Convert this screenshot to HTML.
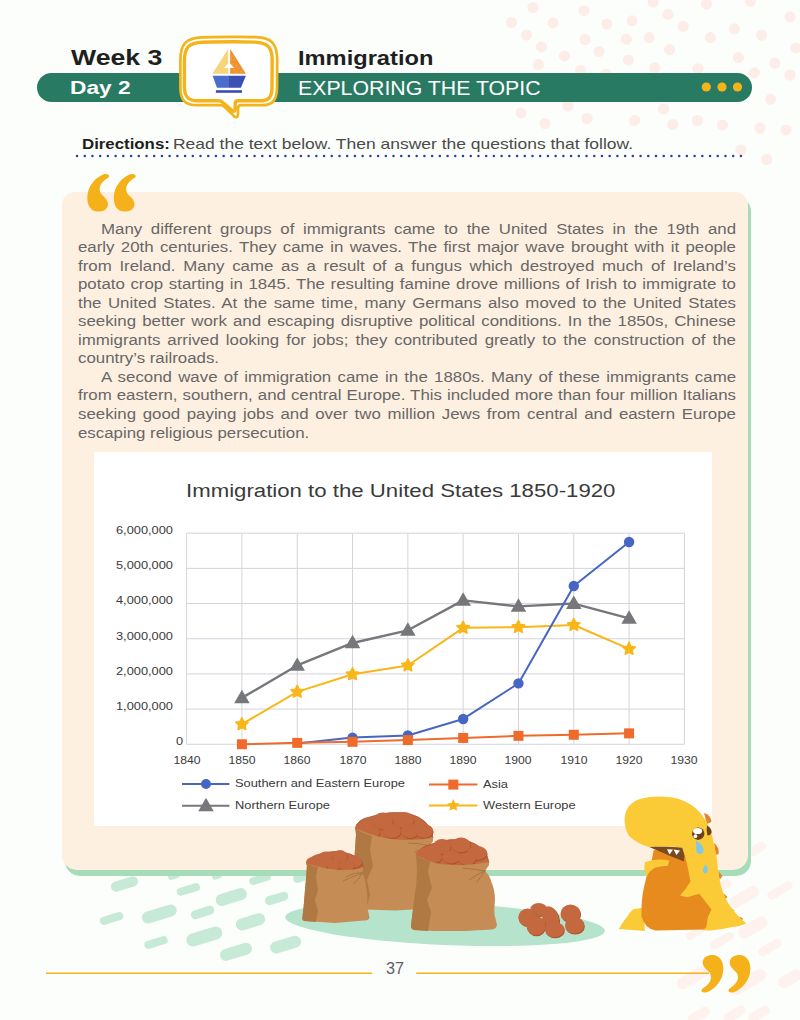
<!DOCTYPE html>
<html><head><meta charset="utf-8">
<style>
*{margin:0;padding:0;box-sizing:border-box}
html,body{width:800px;height:1020px;overflow:hidden;background:#fcfefb}
body{position:relative;font-family:"Liberation Sans",sans-serif}
.a{position:absolute}
.t{position:absolute;white-space:nowrap;transform-origin:0 0;line-height:1}
svg{position:absolute;left:0;top:0}
#card{left:62px;top:192px;width:686px;height:678px;background:#fef0e1;border-radius:13px 13px 15px 15px;box-shadow:3px 6px 0 #a6dcb7}
#chart{left:94px;top:452px;width:618px;height:374px;background:#fff}
.p{position:absolute;left:78px;font-size:14.7px;line-height:1;color:#676767;transform-origin:0 0;transform:scaleX(1.1463);text-align:justify;text-align-last:justify;white-space:normal}
.p.l{text-align:left;text-align-last:left}
.c{position:absolute;white-space:nowrap;transform-origin:0 0;line-height:1;color:#3a3a3a}
</style></head><body>

<svg width="800" height="1020" viewBox="0 0 800 1020">
<g fill="#fdede8"><circle cx="533" cy="7.5" r="5.6"/><circle cx="511.5" cy="22.5" r="5.6"/><circle cx="553" cy="22.9" r="5.6"/><circle cx="584" cy="10.6" r="5.6"/><circle cx="526.6" cy="35" r="5.6"/><circle cx="541.4" cy="46.9" r="5.6"/><circle cx="564.4" cy="55.9" r="5.6"/><circle cx="538.3" cy="64.4" r="5.6"/><circle cx="585" cy="39.5" r="5.6"/><circle cx="599" cy="51.5" r="5.6"/><circle cx="580.5" cy="70.5" r="5.6"/><circle cx="607" cy="24" r="5.6"/><circle cx="632" cy="20.8" r="5.6"/><circle cx="653.2" cy="2" r="5.6"/><circle cx="668" cy="14.4" r="5.6"/><circle cx="683.2" cy="26.4" r="5.6"/><circle cx="706.4" cy="4" r="5.6"/><circle cx="750.4" cy="1.2" r="5.6"/><circle cx="790" cy="16.8" r="5.6"/><circle cx="626.4" cy="39.2" r="5.6"/><circle cx="649.2" cy="37.6" r="5.6"/><circle cx="669.6" cy="49.6" r="5.6"/><circle cx="710.4" cy="37.6" r="5.6"/><circle cx="734.4" cy="28.8" r="5.6"/><circle cx="761.6" cy="35.2" r="5.6"/><circle cx="796" cy="48" r="5.6"/><circle cx="628.4" cy="60" r="5.6"/><circle cx="654.8" cy="68" r="5.6"/><circle cx="698" cy="68.8" r="5.6"/><circle cx="738.4" cy="57.6" r="5.6"/><circle cx="774.8" cy="63.2" r="5.6"/><circle cx="754.4" cy="72.8" r="5.6"/><circle cx="790" cy="75" r="5.6"/><circle cx="606" cy="74" r="5.6"/><circle cx="521" cy="113" r="5.6"/><circle cx="545" cy="123.5" r="5.6"/><circle cx="568" cy="106" r="5.6"/><circle cx="587" cy="118.5" r="5.6"/><circle cx="634.5" cy="120.5" r="5.6"/><circle cx="663.5" cy="109" r="5.6"/><circle cx="672.7" cy="124.5" r="5.6"/><circle cx="697.5" cy="120.5" r="5.6"/><circle cx="722.6" cy="125" r="5.6"/><circle cx="760" cy="128" r="5.6"/><circle cx="786" cy="130" r="5.6"/><circle cx="770.6" cy="99.4" r="5.6"/><circle cx="741" cy="150" r="5.6"/><circle cx="766.8" cy="159.5" r="5.6"/></g>
<g fill="#c6ead5"><rect x="110.5" y="879.0" width="28" height="10" rx="5.0" transform="rotate(-17 124.5 884)"/><rect x="176.4" y="885.4" width="24" height="8" rx="4.0" transform="rotate(-17 188.4 889.4)"/><rect x="215.3" y="891.0" width="32" height="12" rx="6.0" transform="rotate(-17 231.3 897)"/><rect x="264.6" y="893.9" width="24" height="9" rx="4.5" transform="rotate(-17 276.6 898.4)"/><rect x="249.0" y="875.0" width="22" height="8" rx="4.0" transform="rotate(-17 260 879)"/><rect x="293.0" y="874.0" width="14" height="8" rx="4.0" transform="rotate(-17 300 878)"/><rect x="99.6" y="914.5" width="24" height="8" rx="4.0" transform="rotate(-17 111.6 918.5)"/><rect x="141.3" y="908.0" width="36" height="12" rx="6.0" transform="rotate(-17 159.3 914)"/><rect x="190.5" y="908.0" width="24" height="9" rx="4.5" transform="rotate(-17 202.5 912.5)"/><rect x="235.5" y="915.8" width="30" height="12" rx="6.0" transform="rotate(-17 250.5 921.8)"/><rect x="144.0" y="938.5" width="24" height="8" rx="4.0" transform="rotate(-17 156 942.5)"/><rect x="185.8" y="930.0" width="37" height="13" rx="6.5" transform="rotate(-17 204.3 936.5)"/><rect x="219.5" y="945.8" width="33" height="12" rx="6.0" transform="rotate(-17 236 951.8)"/><rect x="269.6" y="938.6" width="32" height="12" rx="6.0" transform="rotate(-17 285.6 944.6)"/><rect x="168.0" y="873.0" width="12" height="6" rx="3.0" transform="rotate(-17 174 876)"/><rect x="212.0" y="873.0" width="10" height="6" rx="3.0" transform="rotate(-17 217 876)"/></g>
<g fill="#fef2ef"><rect x="747.0" y="844.5" width="20" height="9" rx="4.5" transform="rotate(-30 757 849)"/><rect x="766.0" y="885.9" width="28" height="9" rx="4.5" transform="rotate(-30 780 890.4)"/><rect x="728.3" y="890.9" width="32" height="12" rx="6.0" transform="rotate(-30 744.3 896.9)"/><rect x="737.0" y="921.3" width="32" height="12" rx="6.0" transform="rotate(-30 753 927.3)"/><rect x="709.0" y="936.1" width="26" height="9" rx="4.5" transform="rotate(-30 722 940.6)"/><rect x="756.8" y="943.0" width="26" height="9" rx="4.5" transform="rotate(-30 769.8 947.5)"/><rect x="675.4" y="971.8" width="34" height="12" rx="6.0" transform="rotate(-30 692.4 977.8)"/><rect x="777.0" y="972.8" width="26" height="12" rx="6.0" transform="rotate(-30 790 978.8)"/><rect x="728.0" y="975.3" width="40" height="13" rx="6.5" transform="rotate(-30 748 981.8)"/><rect x="687.0" y="1010.0" width="24" height="10" rx="5.0" transform="rotate(-30 699 1015)"/><rect x="722.5" y="1009.0" width="24" height="10" rx="5.0" transform="rotate(-30 734.5 1014)"/><rect x="747.0" y="1009.0" width="24" height="10" rx="5.0" transform="rotate(-30 759 1014)"/><rect x="685.0" y="929.0" width="20" height="8" rx="4.0" transform="rotate(-30 695 933)"/><rect x="717.7" y="879.7" width="14" height="10" rx="5.0" transform="rotate(-30 724.7 884.7)"/></g>
</svg>
<div id="card" class="a"></div>
<div class="p" style="left:101px;top:221.81px;width:554.0px">Many different groups of immigrants came to the United States in the 19th and</div>
<div class="p" style="left:78px;top:240.33px;width:574.0px">early 20th centuries. They came in waves. The first major wave brought with it people</div>
<div class="p" style="left:78px;top:258.85px;width:574.0px">from Ireland. Many came as a result of a fungus which destroyed much of Ireland’s</div>
<div class="p" style="left:78px;top:277.37px;width:574.0px">potato crop starting in 1845. The resulting famine drove millions of Irish to immigrate to</div>
<div class="p" style="left:78px;top:295.89px;width:574.0px">the United States. At the same time, many Germans also moved to the United States</div>
<div class="p" style="left:78px;top:314.41px;width:574.0px">seeking better work and escaping disruptive political conditions. In the 1850s, Chinese</div>
<div class="p" style="left:78px;top:332.93px;width:574.0px">immigrants arrived looking for jobs; they contributed greatly to the construction of the</div>
<div class="p l" style="left:78px;top:351.45px;width:574.0px">country’s railroads.</div>
<div class="p" style="left:101px;top:369.97px;width:554.0px">A second wave of immigration came in the 1880s. Many of these immigrants came</div>
<div class="p" style="left:78px;top:388.49px;width:574.0px">from eastern, southern, and central Europe. This included more than four million Italians</div>
<div class="p" style="left:78px;top:407.01px;width:574.0px">seeking good paying jobs and over two million Jews from central and eastern Europe</div>
<div class="p l" style="left:78px;top:425.53px;width:574.0px">escaping religious persecution.</div>
<div id="chart" class="a"></div>
<svg width="800" height="1020" viewBox="0 0 800 1020">
<line x1="186.6" y1="533.20" x2="684.4" y2="533.20" stroke="#d3d3dd" stroke-width="1"/><line x1="186.6" y1="568.38" x2="684.4" y2="568.38" stroke="#d3d3dd" stroke-width="1"/><line x1="186.6" y1="603.56" x2="684.4" y2="603.56" stroke="#d3d3dd" stroke-width="1"/><line x1="186.6" y1="638.74" x2="684.4" y2="638.74" stroke="#d3d3dd" stroke-width="1"/><line x1="186.6" y1="673.92" x2="684.4" y2="673.92" stroke="#d3d3dd" stroke-width="1"/><line x1="186.6" y1="709.10" x2="684.4" y2="709.10" stroke="#d3d3dd" stroke-width="1"/><line x1="186.6" y1="744.28" x2="684.4" y2="744.28" stroke="#d3d3dd" stroke-width="1"/><line x1="186.60" y1="533.2" x2="186.60" y2="744.28" stroke="#d5d5d8" stroke-width="1"/><line x1="241.91" y1="533.2" x2="241.91" y2="744.28" stroke="#d5d5d8" stroke-width="1"/><line x1="297.22" y1="533.2" x2="297.22" y2="744.28" stroke="#d5d5d8" stroke-width="1"/><line x1="352.53" y1="533.2" x2="352.53" y2="744.28" stroke="#d5d5d8" stroke-width="1"/><line x1="407.84" y1="533.2" x2="407.84" y2="744.28" stroke="#d5d5d8" stroke-width="1"/><line x1="463.16" y1="533.2" x2="463.16" y2="744.28" stroke="#d5d5d8" stroke-width="1"/><line x1="518.47" y1="533.2" x2="518.47" y2="744.28" stroke="#d5d5d8" stroke-width="1"/><line x1="573.78" y1="533.2" x2="573.78" y2="744.28" stroke="#d5d5d8" stroke-width="1"/><line x1="629.09" y1="533.2" x2="629.09" y2="744.28" stroke="#d5d5d8" stroke-width="1"/><line x1="684.40" y1="533.2" x2="684.40" y2="744.28" stroke="#d5d5d8" stroke-width="1"/>
<polyline fill="none" stroke="#75777a" stroke-width="2.4" stroke-linejoin="round" points="241.91,697.84 297.22,665.48 352.53,642.96 407.84,630.30 463.16,600.39 518.47,606.37 573.78,603.56 629.09,618.34"/><g fill="#75777a" stroke="#75777a" stroke-width="0"><polygon points="241.91,689.75 234.16,703.24 249.66,703.24"/><polygon points="297.22,657.39 289.47,670.87 304.97,670.87"/><polygon points="352.53,634.87 344.78,648.36 360.28,648.36"/><polygon points="407.84,622.21 400.09,635.69 415.59,635.69"/><polygon points="463.16,592.30 455.41,605.79 470.91,605.79"/><polygon points="518.47,598.28 510.72,611.77 526.22,611.77"/><polygon points="573.78,595.47 566.03,608.95 581.53,608.95"/><polygon points="629.09,610.24 621.34,623.73 636.84,623.73"/></g>
<polyline fill="none" stroke="#f8b618" stroke-width="2" stroke-linejoin="round" points="241.91,724.23 297.22,691.86 352.53,674.27 407.84,665.48 463.16,627.83 518.47,627.13 573.78,625.02 629.09,648.94"/><g fill="#f8b618" stroke="#f8b618" stroke-width="0"><polygon points="241.91,717.73 243.79,721.64 248.09,722.22 244.95,725.22 245.73,729.49 241.91,727.43 238.09,729.49 238.87,725.22 235.73,722.22 240.03,721.64" stroke-linejoin="round" stroke-width="1.6"/><polygon points="297.22,685.36 299.10,689.27 303.40,689.85 300.27,692.85 301.04,697.12 297.22,695.06 293.40,697.12 294.18,692.85 291.04,689.85 295.34,689.27" stroke-linejoin="round" stroke-width="1.6"/><polygon points="352.53,667.77 354.41,671.68 358.72,672.26 355.58,675.26 356.35,679.53 352.53,677.47 348.71,679.53 349.49,675.26 346.35,672.26 350.65,671.68" stroke-linejoin="round" stroke-width="1.6"/><polygon points="407.84,658.98 409.73,662.89 414.03,663.47 410.89,666.47 411.67,670.74 407.84,668.68 404.02,670.74 404.80,666.47 401.66,663.47 405.96,662.89" stroke-linejoin="round" stroke-width="1.6"/><polygon points="463.16,621.33 465.04,625.25 469.34,625.83 466.20,628.82 466.98,633.09 463.16,631.03 459.33,633.09 460.11,628.82 456.97,625.83 461.27,625.25" stroke-linejoin="round" stroke-width="1.6"/><polygon points="518.47,620.63 520.35,624.54 524.65,625.12 521.51,628.12 522.29,632.39 518.47,630.33 514.65,632.39 515.42,628.12 512.28,625.12 516.59,624.54" stroke-linejoin="round" stroke-width="1.6"/><polygon points="573.78,618.52 575.66,622.43 579.96,623.01 576.82,626.01 577.60,630.28 573.78,628.22 569.96,630.28 570.73,626.01 567.60,623.01 571.90,622.43" stroke-linejoin="round" stroke-width="1.6"/><polygon points="629.09,642.44 630.97,646.35 635.27,646.93 632.13,649.93 632.91,654.20 629.09,652.14 625.27,654.20 626.05,649.93 622.91,646.93 627.21,646.35" stroke-linejoin="round" stroke-width="1.6"/></g>
<polyline fill="none" stroke="#4766c4" stroke-width="2" stroke-linejoin="round" points="297.22,743.58 352.53,737.60 407.84,735.49 463.16,718.95 518.47,683.42 573.78,585.97 629.09,542.00"/><g fill="#4766c4" stroke="#4766c4" stroke-width="0"><circle cx="352.53" cy="737.60" r="5.2"/><circle cx="407.84" cy="735.49" r="5.2"/><circle cx="463.16" cy="718.95" r="5.2"/><circle cx="518.47" cy="683.42" r="5.2"/><circle cx="573.78" cy="585.97" r="5.2"/><circle cx="629.09" cy="542.00" r="5.2"/></g>
<polyline fill="none" stroke="#ee6b2c" stroke-width="2" stroke-linejoin="round" points="241.91,744.28 297.22,742.87 352.53,741.82 407.84,740.06 463.16,737.95 518.47,735.84 573.78,734.78 629.09,733.37"/><g fill="#ee6b2c" stroke="#ee6b2c" stroke-width="0"><rect x="236.91" y="739.28" width="10" height="10"/><rect x="292.22" y="737.87" width="10" height="10"/><rect x="347.53" y="736.82" width="10" height="10"/><rect x="402.84" y="735.06" width="10" height="10"/><rect x="458.16" y="732.95" width="10" height="10"/><rect x="513.47" y="730.84" width="10" height="10"/><rect x="568.78" y="729.78" width="10" height="10"/><rect x="624.09" y="728.37" width="10" height="10"/></g>
<line x1="182" y1="784" x2="229.4" y2="784" stroke="#4766c4" stroke-width="2"/><circle cx="206" cy="784" r="5" fill="#4766c4"/>
<line x1="182" y1="805.8" x2="229.4" y2="805.8" stroke="#75777a" stroke-width="2"/><g fill="#75777a"><polygon points="206.00,797.71 198.25,811.19 213.75,811.19"/></g>
<line x1="429" y1="784.6" x2="477.4" y2="784.6" stroke="#ee6b2c" stroke-width="2"/><rect x="448.3" y="779.6" width="10" height="10" fill="#ee6b2c"/>
<line x1="429" y1="805.5" x2="477.4" y2="805.5" stroke="#f8b618" stroke-width="2"/><g fill="#f8b618"><polygon points="453.30,799.00 455.18,802.91 459.48,803.49 456.34,806.49 457.12,810.76 453.30,808.70 449.48,810.76 450.26,806.49 447.12,803.49 451.42,802.91" stroke-linejoin="round" stroke-width="1.6"/></g>
</svg>
<div class="c" style="left:186px;top:481.79px;font-size:18.85px;transform:scaleX(1.178)">Immigration to the United States 1850-1920</div>
<div class="c" style="left:115.5px;top:523.98px;font-size:11.6px;transform:scaleX(1.105)">6,000,000</div>
<div class="c" style="left:115.5px;top:559.16px;font-size:11.6px;transform:scaleX(1.105)">5,000,000</div>
<div class="c" style="left:115.5px;top:594.34px;font-size:11.6px;transform:scaleX(1.105)">4,000,000</div>
<div class="c" style="left:115.5px;top:629.52px;font-size:11.6px;transform:scaleX(1.105)">3,000,000</div>
<div class="c" style="left:115.5px;top:664.70px;font-size:11.6px;transform:scaleX(1.105)">2,000,000</div>
<div class="c" style="left:115.5px;top:699.88px;font-size:11.6px;transform:scaleX(1.105)">1,000,000</div>
<div class="c" style="left:175.5px;top:735.06px;font-size:11.6px;transform:scaleX(1.1)">0</div>
<div class="c" style="left:173.60px;top:753.78px;font-size:11.6px;width:26px;text-align:center;transform:scaleX(1.05);transform-origin:50% 0">1840</div>
<div class="c" style="left:228.91px;top:753.78px;font-size:11.6px;width:26px;text-align:center;transform:scaleX(1.05);transform-origin:50% 0">1850</div>
<div class="c" style="left:284.22px;top:753.78px;font-size:11.6px;width:26px;text-align:center;transform:scaleX(1.05);transform-origin:50% 0">1860</div>
<div class="c" style="left:339.53px;top:753.78px;font-size:11.6px;width:26px;text-align:center;transform:scaleX(1.05);transform-origin:50% 0">1870</div>
<div class="c" style="left:394.84px;top:753.78px;font-size:11.6px;width:26px;text-align:center;transform:scaleX(1.05);transform-origin:50% 0">1880</div>
<div class="c" style="left:450.16px;top:753.78px;font-size:11.6px;width:26px;text-align:center;transform:scaleX(1.05);transform-origin:50% 0">1890</div>
<div class="c" style="left:505.47px;top:753.78px;font-size:11.6px;width:26px;text-align:center;transform:scaleX(1.05);transform-origin:50% 0">1900</div>
<div class="c" style="left:560.78px;top:753.78px;font-size:11.6px;width:26px;text-align:center;transform:scaleX(1.05);transform-origin:50% 0">1910</div>
<div class="c" style="left:616.09px;top:753.78px;font-size:11.6px;width:26px;text-align:center;transform:scaleX(1.05);transform-origin:50% 0">1920</div>
<div class="c" style="left:671.40px;top:753.78px;font-size:11.6px;width:26px;text-align:center;transform:scaleX(1.05);transform-origin:50% 0">1930</div>
<div class="c" style="left:235px;top:778.32px;font-size:11.2px;transform:scaleX(1.148)">Southern and Eastern Europe</div>
<div class="c" style="left:235px;top:800.22px;font-size:11.2px;transform:scaleX(1.148)">Northern Europe</div>
<div class="c" style="left:482.5px;top:778.82px;font-size:11.2px;transform:scaleX(1.148)">Asia</div>
<div class="c" style="left:482.5px;top:800.02px;font-size:11.2px;transform:scaleX(1.148)">Western Europe</div>
<svg width="800" height="1020" viewBox="0 0 800 1020">
<g fill="#f5b11a"><path d="M108.6 177.6 C100.5 182.5 98.2 187.5 100.6 193.2 C103.5 196.5 108.2 199.5 108 204.5 C107.6 209.6 102.6 211.8 97.6 211.6 C91.2 211.3 87 205.6 87.3 197.2 C87.6 186.5 95 177.5 103.8 174.3 C107.2 173.2 110.6 175.3 108.6 177.6 Z"/><path transform="translate(26.5 0)" d="M108.6 177.6 C100.5 182.5 98.2 187.5 100.6 193.2 C103.5 196.5 108.2 199.5 108 204.5 C107.6 209.6 102.6 211.8 97.6 211.6 C91.2 211.3 87 205.6 87.3 197.2 C87.6 186.5 95 177.5 103.8 174.3 C107.2 173.2 110.6 175.3 108.6 177.6 Z"/></g>
<g fill="#f5b11a" transform="translate(712.65 973.75) rotate(180) translate(-98 -192.75)"><path d="M108.6 177.6 C100.5 182.5 98.2 187.5 100.6 193.2 C103.5 196.5 108.2 199.5 108 204.5 C107.6 209.6 102.6 211.8 97.6 211.6 C91.2 211.3 87 205.6 87.3 197.2 C87.6 186.5 95 177.5 103.8 174.3 C107.2 173.2 110.6 175.3 108.6 177.6 Z"/><path transform="translate(-27 0)" d="M108.6 177.6 C100.5 182.5 98.2 187.5 100.6 193.2 C103.5 196.5 108.2 199.5 108 204.5 C107.6 209.6 102.6 211.8 97.6 211.6 C91.2 211.3 87 205.6 87.3 197.2 C87.6 186.5 95 177.5 103.8 174.3 C107.2 173.2 110.6 175.3 108.6 177.6 Z"/></g>
<line x1="46" y1="973.3" x2="372" y2="973.3" stroke="#f5b11a" stroke-width="1.5"/>
<line x1="416.2" y1="973.3" x2="709" y2="973.3" stroke="#f5b11a" stroke-width="1.5"/>
<ellipse cx="445" cy="924" rx="160" ry="21" fill="#b6e3cb" transform="rotate(2.5 445 924)"/><ellipse cx="539.3000000000001" cy="910.4" rx="8.4" ry="6.5" fill="#a9512c" transform="rotate(0 538.7 909.4)"/><ellipse cx="538.7" cy="909.4" rx="8.4" ry="6.5" fill="#c4693f" transform="rotate(0 538.7 909.4)"/><ellipse cx="571.1" cy="914.5" rx="10" ry="9" fill="#a9512c" transform="rotate(0 570.5 913.5)"/><ellipse cx="570.5" cy="913.5" rx="10" ry="9" fill="#c4693f" transform="rotate(0 570.5 913.5)"/><ellipse cx="528.2" cy="918.3" rx="9.3" ry="8.7" fill="#a9512c" transform="rotate(0 527.6 917.3)"/><ellipse cx="527.6" cy="917.3" rx="9.3" ry="8.7" fill="#c4693f" transform="rotate(0 527.6 917.3)"/><ellipse cx="551.1" cy="919" rx="8" ry="12" fill="#a9512c" transform="rotate(-20 550.5 918)"/><ellipse cx="550.5" cy="918" rx="8" ry="12" fill="#c4693f" transform="rotate(-20 550.5 918)"/><ellipse cx="536.6" cy="926.8" rx="9.6" ry="9.5" fill="#a9512c" transform="rotate(0 536 925.8)"/><ellipse cx="536" cy="925.8" rx="9.6" ry="9.5" fill="#c4693f" transform="rotate(0 536 925.8)"/><ellipse cx="575.2" cy="926.4" rx="9.6" ry="8.2" fill="#a9512c" transform="rotate(0 574.6 925.4)"/><ellipse cx="574.6" cy="925.4" rx="9.6" ry="8.2" fill="#c4693f" transform="rotate(0 574.6 925.4)"/><ellipse cx="555.2" cy="930.7" rx="9.6" ry="7.6" fill="#a9512c" transform="rotate(0 554.6 929.7)"/><ellipse cx="554.6" cy="929.7" rx="9.6" ry="7.6" fill="#c4693f" transform="rotate(0 554.6 929.7)"/><path d="M355.4 829 Q357 819 370 817 Q390 810 410 814 Q430 819 433 838 Q395 852 355.4 829 Z" fill="#c4693f" stroke="#a9512c" stroke-width="0.8"/><ellipse cx="364.6" cy="829" rx="8.8" ry="7" fill="#a9512c" transform="rotate(0 364 828)"/><ellipse cx="364" cy="828" rx="8.8" ry="7" fill="#c4693f" transform="rotate(0 364 828)"/><ellipse cx="383.6" cy="822" rx="10" ry="8.5" fill="#a9512c" transform="rotate(0 383 821)"/><ellipse cx="383" cy="821" rx="10" ry="8.5" fill="#c4693f" transform="rotate(0 383 821)"/><ellipse cx="404.6" cy="821" rx="10" ry="8" fill="#a9512c" transform="rotate(0 404 820)"/><ellipse cx="404" cy="820" rx="10" ry="8" fill="#c4693f" transform="rotate(0 404 820)"/><ellipse cx="372.6" cy="833" rx="8" ry="6" fill="#a9512c" transform="rotate(0 372 832)"/><ellipse cx="372" cy="832" rx="8" ry="6" fill="#c4693f" transform="rotate(0 372 832)"/><ellipse cx="392.6" cy="832" rx="9" ry="7" fill="#a9512c" transform="rotate(0 392 831)"/><ellipse cx="392" cy="831" rx="9" ry="7" fill="#c4693f" transform="rotate(0 392 831)"/><ellipse cx="410.6" cy="832" rx="9" ry="7" fill="#a9512c" transform="rotate(0 410 831)"/><ellipse cx="410" cy="831" rx="9" ry="7" fill="#c4693f" transform="rotate(0 410 831)"/><ellipse cx="424.6" cy="832" rx="9" ry="7" fill="#a9512c" transform="rotate(0 424 831)"/><ellipse cx="424" cy="831" rx="9" ry="7" fill="#c4693f" transform="rotate(0 424 831)"/><path d="M355.4 828 Q380 840 405 840 Q425 840 433 837 L433 841 Q430 845 429 848 L432 900 L413 909.5 L395 910.5 L365 909.5 Q354 909 354.5 903 Q353 870 356 835 Z" fill="#c68c56"/><path d="M355.4 828 Q364 834 372 836 L370 850 L373 866 L367 880 L370 895 L366 910 L365 909.5 Q354 909 354.5 903 Q353 870 356 835 Z" fill="#b07843"/><g stroke="#a0703e" stroke-width="0.8" fill="none" stroke-linecap="round"><path d="M430 846 q-10 -3 -22 -3"/><path d="M430 846 q-8 2 -15 6"/><path d="M430 846 q-4 4 -7 9"/></g><path d="M307 864 Q309 856 320 854 Q335 849 350 854 Q362 858 364 868 Q335 878 307 864 Z" fill="#c4693f" stroke="#a9512c" stroke-width="0.8"/><ellipse cx="313.6" cy="863.5" rx="7" ry="5.5" fill="#a9512c" transform="rotate(0 313 862.5)"/><ellipse cx="313" cy="862.5" rx="7" ry="5.5" fill="#c4693f" transform="rotate(0 313 862.5)"/><ellipse cx="326.1" cy="858.5" rx="7" ry="6" fill="#a9512c" transform="rotate(0 325.5 857.5)"/><ellipse cx="325.5" cy="857.5" rx="7" ry="6" fill="#c4693f" transform="rotate(0 325.5 857.5)"/><ellipse cx="340.6" cy="857.5" rx="7.5" ry="6.5" fill="#a9512c" transform="rotate(0 340 856.5)"/><ellipse cx="340" cy="856.5" rx="7.5" ry="6.5" fill="#c4693f" transform="rotate(0 340 856.5)"/><ellipse cx="354.6" cy="863" rx="8" ry="6" fill="#a9512c" transform="rotate(0 354 862)"/><ellipse cx="354" cy="862" rx="8" ry="6" fill="#c4693f" transform="rotate(0 354 862)"/><ellipse cx="321.6" cy="866" rx="7" ry="5" fill="#a9512c" transform="rotate(0 321 865)"/><ellipse cx="321" cy="865" rx="7" ry="5" fill="#c4693f" transform="rotate(0 321 865)"/><ellipse cx="334.6" cy="865.5" rx="7" ry="5.5" fill="#a9512c" transform="rotate(0 334 864.5)"/><ellipse cx="334" cy="864.5" rx="7" ry="5.5" fill="#c4693f" transform="rotate(0 334 864.5)"/><ellipse cx="347.6" cy="867" rx="7" ry="5" fill="#a9512c" transform="rotate(0 347 866)"/><ellipse cx="347" cy="866" rx="7" ry="5" fill="#c4693f" transform="rotate(0 347 866)"/><path d="M307 863.5 Q325 869 340 870 Q355 870.5 364 867 L362 873 Q365 877 365.5 882 Q368 895 367.5 908 Q369 915 369.5 918 Q368 921 364 920.5 L335 923 L314 921.5 L304.5 921 Q301.5 920 302.5 917 Q304 905 305 890 Q306.5 875 307 863.5 Z" fill="#c68c56"/><path d="M307 863.5 Q312 866 318 867 L316 877 L318 890 L315 900 L318 911 L316 922 L304.5 921 Q301.5 920 302.5 917 Q304 905 305 890 Q306.5 875 307 863.5 Z" fill="#b07843"/><g stroke="#a0703e" stroke-width="0.8" fill="none" stroke-linecap="round"><path d="M362 873 q-8 3 -19 8"/><path d="M362 873 q-3 6 -8 11"/><path d="M362 873 q-8 -1 -16 4"/></g><path d="M416 856 Q419 847 432 844 Q450 837 468 841 Q487 847 489 863 Q450 874 416 856 Z" fill="#c4693f" stroke="#a9512c" stroke-width="0.8"/><ellipse cx="425.1" cy="855.5" rx="8.5" ry="6.5" fill="#a9512c" transform="rotate(0 424.5 854.5)"/><ellipse cx="424.5" cy="854.5" rx="8.5" ry="6.5" fill="#c4693f" transform="rotate(0 424.5 854.5)"/><ellipse cx="442.6" cy="847.5" rx="9" ry="7.5" fill="#a9512c" transform="rotate(0 442 846.5)"/><ellipse cx="442" cy="846.5" rx="9" ry="7.5" fill="#c4693f" transform="rotate(0 442 846.5)"/><ellipse cx="461.6" cy="846" rx="9.5" ry="7.5" fill="#a9512c" transform="rotate(0 461 845)"/><ellipse cx="461" cy="845" rx="9.5" ry="7.5" fill="#c4693f" transform="rotate(0 461 845)"/><ellipse cx="477.6" cy="854" rx="10" ry="7" fill="#a9512c" transform="rotate(0 477 853)"/><ellipse cx="477" cy="853" rx="10" ry="7" fill="#c4693f" transform="rotate(0 477 853)"/><ellipse cx="434.6" cy="858" rx="8" ry="6" fill="#a9512c" transform="rotate(0 434 857)"/><ellipse cx="434" cy="857" rx="8" ry="6" fill="#c4693f" transform="rotate(0 434 857)"/><ellipse cx="451.6" cy="858" rx="9" ry="6.5" fill="#a9512c" transform="rotate(0 451 857)"/><ellipse cx="451" cy="857" rx="9" ry="6.5" fill="#c4693f" transform="rotate(0 451 857)"/><ellipse cx="467.6" cy="860" rx="9" ry="6" fill="#a9512c" transform="rotate(0 467 859)"/><ellipse cx="467" cy="859" rx="9" ry="6" fill="#c4693f" transform="rotate(0 467 859)"/><path d="M416 855 Q430 862 440 864 Q465 867 489 862 L489 865 L485 871 Q490 876 491 881 Q495 890 495 900 Q494 908 494.5 915 Q496 920 497 925 Q496 929 492 929.5 L465 931 L435 931 L414 930 Q410.5 929 411 925 Q413 910 414 900 Q417 885 417 870 Z" fill="#c68c56"/><path d="M416 855 Q422 859 430 861 L428 872 L432 888 L427 900 L431 912 L428 931 L414 930 Q410.5 929 411 925 Q413 910 414 900 Q417 885 417 870 Z" fill="#b07843"/><g stroke="#a0703e" stroke-width="0.8" fill="none" stroke-linecap="round"><path d="M485 871 q-10 -2 -22 -3"/><path d="M485 871 q-8 3 -16 9"/><path d="M485 871 q-4 5 -8 11"/></g>
<g>
<g fill="#e6842a"><path d="M704 813 Q711 815 711.5 822 L707 824 Z"/><path d="M714 843 Q719.5 847 718.5 854 L715.5 855 Z"/><polygon points="718.5,871.5 722.5,876 719.5,880"/><polygon points="723.7,893.5 727.5,897 724.8,899.5"/><polygon points="730.7,907.5 734.5,910.8 731.8,913"/><polygon points="739.5,916.5 743.5,919 740.5,920.5"/></g>
<path d="M618.75 929 Q624 920 627.5 916.5 Q631 910 634 909 L643.25 907.75 L645 931 Z" fill="#fbcb37"/>
<path d="M653.75 850 L687 852 L692 875 L699 892 L713 909 L710 918 L706 929.6 L655.5 930.5 Q645 929 641.5 916.5 Q641 900 644 887 Q646 876 650.25 867.5 Z" fill="#e88b1f"/>
<path d="M645 862.25 Q655 858 669.5 860.5 L667.75 865.75 Q660 866.5 655.5 867.5 Q650 870 646.75 876.25 Q643 870 645 862.25 Z" fill="#fbcb37"/>
<path d="M624.6 821.6 C624 810 630 802 640 799 C650 796 662 795.8 672.8 797.6 C685 800 695 806 702 815 C707 822 710 828 712 835 C714 845 716 852 717 860 C718 870 719 878 721 886 C724 896 728 904 734 911 C738 916 742 920 746.5 923.5 C740 926 736 927 732.5 927 L723.75 928.75 L711.5 930.5 L702.75 930.5 L706.25 927 L708 916.5 L711.5 909.5 L699.25 893.75 L687 897.25 L680 895.5 Q686 889 690.5 881.5 L686.5 861.5 L682.4 847.8 C672 846 660 846.5 649.4 847 C642 845 634 841 628.75 835.4 C626 831 624.8 826 624.6 821.6 Z" fill="#fbcb37"/>
<path d="M649.4 847 C660 846.5 672 846.5 682.4 847.8 L684.5 856 L683.75 861.5 C675 858 663 853 649.4 847 Z" fill="#7b4a1e"/>
<polygon points="667,849.3 673,849.5 669.5,854.6" fill="#fff"/><polygon points="673.5,849.6 680,850.5 676.5,855" fill="#fff"/>
<circle cx="698.2" cy="833.7" r="6.2" fill="#6e4218"/>
<ellipse cx="697.6" cy="831" rx="4.6" ry="3.1" fill="#fff"/>
<circle cx="695.4" cy="836.2" r="1.9" fill="#fff"/>
<path d="M707 825.5 Q712 828 711.5 833 Q709.5 836 707.5 835.4 Q706 830 707 825.5 Z" fill="#6e4218"/>
<path d="M696 840.2 Q703 845 703.7 849.5 Q703.5 854 699.5 854 Q696 853.5 696.2 849 Z" fill="#7fc8e8"/>
<path d="M705.5 864 Q708.2 868 708 871 Q707 873.8 705 873.4 Q702.6 872.6 703 869 Z" fill="#7fc8e8"/>
</g>
</svg>
<div class="t" style="left:385.5px;top:961.03px;font-size:15.8px;color:#5e5e5e;transform:scaleX(1.03)">37</div>
<div class="a" style="left:37px;top:73px;width:715px;height:29px;border-radius:15px;background:#297a63"></div>
<svg width="800" height="1020" viewBox="0 0 800 1020">
<g fill="#f5b31a"><circle cx="706.3" cy="87" r="4.6"/><circle cx="722" cy="87" r="4.6"/><circle cx="737.5" cy="87" r="4.6"/></g>
<g>
<path d="M202 37.3 C230 36.6 248 36.8 256 37.2 C272 37.8 277.2 44 277.2 60 L277 88 C276.8 101 272 105.2 262 105.2 L241 105.2 Q238 105.2 238 108.5 L238 114.5 Q237.8 118 234.6 116.8 Q233.5 116 232 114 L224.5 106.8 Q222.8 105.2 220 105.2 L197 105.2 C185 105.2 180.4 100 180.4 88 L180.4 60 C180.4 44 186 37.8 202 37.3 Z" fill="#fff" stroke="#f5b31a" stroke-width="2.7"/>
<path d="M202.5 42.2 C228 41.6 246 41.8 255 42.1 C268 42.6 272.2 47.5 272.2 61 L272 88 C271.8 97.5 268.5 100.8 260 100.8 L238 100.8 Q235.2 100.8 235.2 103.5 L235.2 109 Q235 112.5 232.5 110.8 L222.5 102.2 Q221 100.8 218.5 100.8 L198 100.8 C188.5 100.8 184.4 97 184.4 87 L184.4 61 C184.4 47.5 189 42.6 202.5 42.2 Z" fill="none" stroke="#f5b31a" stroke-width="3.4"/>
<polygon points="228.1,48.9 228.1,73.7 212.4,73.7" fill="#f5d47a"/>
<polygon points="230.1,48.7 230.1,73.7 245.9,73.7" fill="#ee9330"/>
<g fill="#f6bb62"><circle cx="232" cy="56" r=".6"/><circle cx="234" cy="60" r=".6"/><circle cx="232.5" cy="64" r=".6"/><circle cx="236" cy="65" r=".6"/><circle cx="238.5" cy="68" r=".6"/><circle cx="234" cy="70" r=".6"/><circle cx="241" cy="71.5" r=".6"/><circle cx="236" cy="72" r=".6"/><circle cx="231.5" cy="59" r=".6"/></g>
<polygon points="229.1,62.6 234.4,68 224,68" fill="#fff"/>
<polygon points="212.6,75.8 229,75.8 229,87.8 217,87.8" fill="#4a6dcb"/>
<polygon points="229,75.8 245.9,75.8 240.9,87.8 229,87.8" fill="#3c4fb3"/>
<rect x="215.9" y="90.2" width="26.1" height="2.6" fill="#3a4db3"/>
</g>
<circle cx="77.00" cy="156" r="1.25" fill="#2b3ca5"/><circle cx="84.72" cy="156" r="1.25" fill="#2b3ca5"/><circle cx="92.44" cy="156" r="1.25" fill="#2b3ca5"/><circle cx="100.16" cy="156" r="1.25" fill="#2b3ca5"/><circle cx="107.88" cy="156" r="1.25" fill="#2b3ca5"/><circle cx="115.60" cy="156" r="1.25" fill="#2b3ca5"/><circle cx="123.32" cy="156" r="1.25" fill="#2b3ca5"/><circle cx="131.04" cy="156" r="1.25" fill="#2b3ca5"/><circle cx="138.76" cy="156" r="1.25" fill="#2b3ca5"/><circle cx="146.48" cy="156" r="1.25" fill="#2b3ca5"/><circle cx="154.20" cy="156" r="1.25" fill="#2b3ca5"/><circle cx="161.92" cy="156" r="1.25" fill="#2b3ca5"/><circle cx="169.64" cy="156" r="1.25" fill="#2b3ca5"/><circle cx="177.36" cy="156" r="1.25" fill="#2b3ca5"/><circle cx="185.08" cy="156" r="1.25" fill="#2b3ca5"/><circle cx="192.80" cy="156" r="1.25" fill="#2b3ca5"/><circle cx="200.52" cy="156" r="1.25" fill="#2b3ca5"/><circle cx="208.24" cy="156" r="1.25" fill="#2b3ca5"/><circle cx="215.96" cy="156" r="1.25" fill="#2b3ca5"/><circle cx="223.68" cy="156" r="1.25" fill="#2b3ca5"/><circle cx="231.40" cy="156" r="1.25" fill="#2b3ca5"/><circle cx="239.12" cy="156" r="1.25" fill="#2b3ca5"/><circle cx="246.84" cy="156" r="1.25" fill="#2b3ca5"/><circle cx="254.56" cy="156" r="1.25" fill="#2b3ca5"/><circle cx="262.28" cy="156" r="1.25" fill="#2b3ca5"/><circle cx="270.00" cy="156" r="1.25" fill="#2b3ca5"/><circle cx="277.72" cy="156" r="1.25" fill="#2b3ca5"/><circle cx="285.44" cy="156" r="1.25" fill="#2b3ca5"/><circle cx="293.16" cy="156" r="1.25" fill="#2b3ca5"/><circle cx="300.88" cy="156" r="1.25" fill="#2b3ca5"/><circle cx="308.60" cy="156" r="1.25" fill="#2b3ca5"/><circle cx="316.32" cy="156" r="1.25" fill="#2b3ca5"/><circle cx="324.04" cy="156" r="1.25" fill="#2b3ca5"/><circle cx="331.76" cy="156" r="1.25" fill="#2b3ca5"/><circle cx="339.48" cy="156" r="1.25" fill="#2b3ca5"/><circle cx="347.20" cy="156" r="1.25" fill="#2b3ca5"/><circle cx="354.92" cy="156" r="1.25" fill="#2b3ca5"/><circle cx="362.64" cy="156" r="1.25" fill="#2b3ca5"/><circle cx="370.36" cy="156" r="1.25" fill="#2b3ca5"/><circle cx="378.08" cy="156" r="1.25" fill="#2b3ca5"/><circle cx="385.80" cy="156" r="1.25" fill="#2b3ca5"/><circle cx="393.52" cy="156" r="1.25" fill="#2b3ca5"/><circle cx="401.24" cy="156" r="1.25" fill="#2b3ca5"/><circle cx="408.96" cy="156" r="1.25" fill="#2b3ca5"/><circle cx="416.68" cy="156" r="1.25" fill="#2b3ca5"/><circle cx="424.40" cy="156" r="1.25" fill="#2b3ca5"/><circle cx="432.12" cy="156" r="1.25" fill="#2b3ca5"/><circle cx="439.84" cy="156" r="1.25" fill="#2b3ca5"/><circle cx="447.56" cy="156" r="1.25" fill="#2b3ca5"/><circle cx="455.28" cy="156" r="1.25" fill="#2b3ca5"/><circle cx="463.00" cy="156" r="1.25" fill="#2b3ca5"/><circle cx="470.72" cy="156" r="1.25" fill="#2b3ca5"/><circle cx="478.44" cy="156" r="1.25" fill="#2b3ca5"/><circle cx="486.16" cy="156" r="1.25" fill="#2b3ca5"/><circle cx="493.88" cy="156" r="1.25" fill="#2b3ca5"/><circle cx="501.60" cy="156" r="1.25" fill="#2b3ca5"/><circle cx="509.32" cy="156" r="1.25" fill="#2b3ca5"/><circle cx="517.04" cy="156" r="1.25" fill="#2b3ca5"/><circle cx="524.76" cy="156" r="1.25" fill="#2b3ca5"/><circle cx="532.48" cy="156" r="1.25" fill="#2b3ca5"/><circle cx="540.20" cy="156" r="1.25" fill="#2b3ca5"/><circle cx="547.92" cy="156" r="1.25" fill="#2b3ca5"/><circle cx="555.64" cy="156" r="1.25" fill="#2b3ca5"/><circle cx="563.36" cy="156" r="1.25" fill="#2b3ca5"/><circle cx="571.08" cy="156" r="1.25" fill="#2b3ca5"/><circle cx="578.80" cy="156" r="1.25" fill="#2b3ca5"/><circle cx="586.52" cy="156" r="1.25" fill="#2b3ca5"/><circle cx="594.24" cy="156" r="1.25" fill="#2b3ca5"/><circle cx="601.96" cy="156" r="1.25" fill="#2b3ca5"/><circle cx="609.68" cy="156" r="1.25" fill="#2b3ca5"/><circle cx="617.40" cy="156" r="1.25" fill="#2b3ca5"/><circle cx="625.12" cy="156" r="1.25" fill="#2b3ca5"/><circle cx="632.84" cy="156" r="1.25" fill="#2b3ca5"/><circle cx="640.56" cy="156" r="1.25" fill="#2b3ca5"/><circle cx="648.28" cy="156" r="1.25" fill="#2b3ca5"/><circle cx="656.00" cy="156" r="1.25" fill="#2b3ca5"/><circle cx="663.72" cy="156" r="1.25" fill="#2b3ca5"/><circle cx="671.44" cy="156" r="1.25" fill="#2b3ca5"/><circle cx="679.16" cy="156" r="1.25" fill="#2b3ca5"/><circle cx="686.88" cy="156" r="1.25" fill="#2b3ca5"/><circle cx="694.60" cy="156" r="1.25" fill="#2b3ca5"/><circle cx="702.32" cy="156" r="1.25" fill="#2b3ca5"/><circle cx="710.04" cy="156" r="1.25" fill="#2b3ca5"/><circle cx="717.76" cy="156" r="1.25" fill="#2b3ca5"/><circle cx="725.48" cy="156" r="1.25" fill="#2b3ca5"/><circle cx="733.20" cy="156" r="1.25" fill="#2b3ca5"/><circle cx="740.92" cy="156" r="1.25" fill="#2b3ca5"/>
</svg>
<div class="t" style="left:71px;top:47.6px;font-size:21.4px;font-weight:bold;color:#1f1f1f;transform:scaleX(1.244)">Week 3</div>
<div class="t" style="left:70.2px;top:78px;font-size:19.2px;font-weight:bold;color:#fff;transform:scaleX(1.185)">Day 2</div>
<div class="t" style="left:297.5px;top:48px;font-size:20.4px;font-weight:bold;color:#1f1f1f;transform:scaleX(1.16)">Immigration</div>
<div class="t" style="left:297.5px;top:79.1px;font-size:19.5px;color:#fff;transform:scaleX(1.092)">EXPLORING THE TOPIC</div>
<div class="t" style="left:81.6px;top:137.2px;font-size:14.5px;font-weight:bold;color:#1e1e1e;transform:scaleX(1.16)">Directions:</div><div class="t" style="left:173.4px;top:137.2px;font-size:14.5px;color:#4a4a4a;transform:scaleX(1.205)">Read the text below. Then answer the questions that follow.</div>
</body></html>
